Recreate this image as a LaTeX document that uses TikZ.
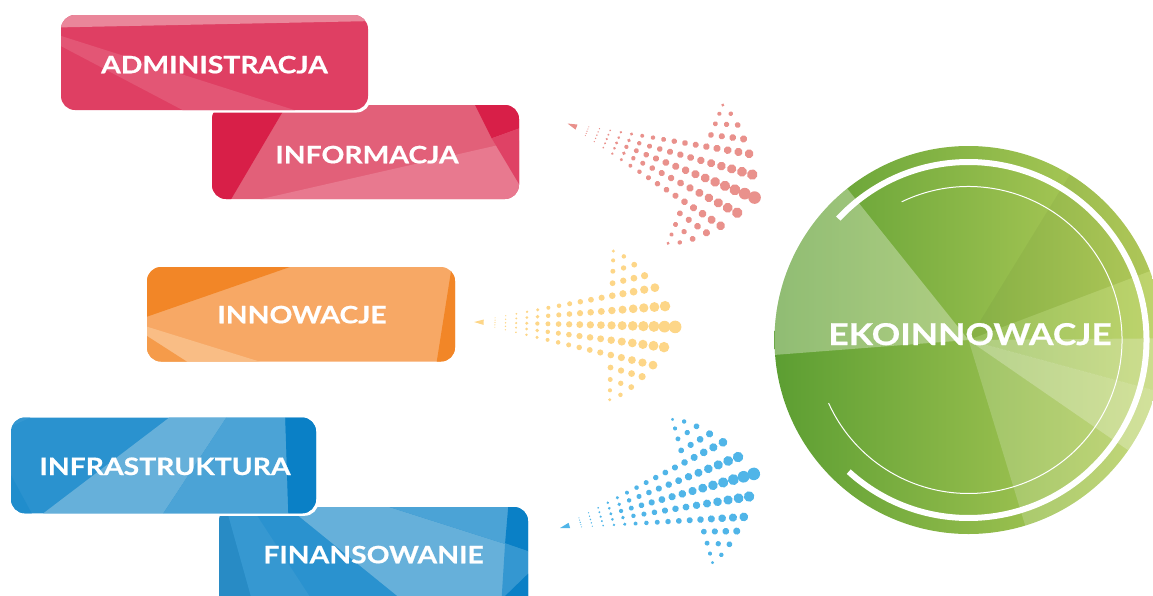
\documentclass[tikz,border=0pt]{standalone}
\usepackage{fontspec}
\setmainfont{Lato}
\newfontfamily\lblfont[FakeStretch=1.18, FakeBold=0.6]{Lato}
\definecolor{redDot}{HTML}{E9918C}
\definecolor{orangeDot}{HTML}{FDD688}
\definecolor{blueDot}{HTML}{50B5E8}
\definecolor{crimson}{HTML}{DF3F63}
\definecolor{crimsonDark}{HTML}{D81F48}
\definecolor{crimsonMid}{HTML}{E26079}
\definecolor{crimsonLight}{HTML}{E8798F}
\definecolor{orangeBase}{HTML}{F7A865}
\definecolor{orangeDark}{HTML}{F28627}
\definecolor{orangeLight}{HTML}{F9BD85}
\definecolor{orangeMid}{HTML}{F59B4A}
\definecolor{blueBase}{HTML}{2A92CF}
\definecolor{blueLight}{HTML}{66B0DA}
\definecolor{blueMid}{HTML}{4BA3D6}
\definecolor{blueDark}{HTML}{0A80C6}
\definecolor{greenLeft}{HTML}{5C9E32}
\definecolor{greenRight}{HTML}{BAD15E}
\tikzset{
  lbl/.style={text=white, font=\lblfont\fontsize{24}{24}\selectfont\bfseries, anchor=base, inner sep=0pt},
  biglbl/.style={lbl, font=\lblfont\fontsize{30}{30}\selectfont\bfseries},
  boxcorner/.style={rounded corners=14pt},
}
% halftone arrow: tip at the origin, pointing along +x
\newcommand\dotarrow[1]{%
  \fill[#1] (0,0) -- (9.7,-2.7) -- (9.7,2.7) -- cycle;
  \foreach \i in {0,...,17}{%
    \pgfmathsetmacro\u{21+10.6*\i}%
    \pgfmathsetmacro\rc{{0.7,0.85,1.2,1.65,2.15,2.5,2.85,3.15,3.45,3.65,3.85,4.15,4.5,4.85,5.15,5.5,5.85,6.3}[\i]}%
    \pgfmathtruncatemacro\kmax{\i<11 ? 2 : 17-\i}%
    \foreach \k in {-\kmax,...,\kmax}{%
      \pgfmathtruncatemacro\a{abs(\k)}%
      \pgfmathsetmacro\g{{0,0.107,0.214,0.261,0.335,0.402,0.46}[\a]}%
      \pgfmathsetmacro\vo{{0,1,1,24,24,24,24}[\a]}%
      \pgfmathsetmacro\v{sign(\k)*\g*(\u+\vo)}%
      \pgfmathsetmacro\r{\rc*(1-0.1*\a)}%
      \fill[#1] (\u,\v) circle[radius=\r];
    }%
  }%
}
\begin{document}
\begin{tikzpicture}[x=1pt,y=-1pt]
\useasboundingbox (0,0) rectangle (1153,595);

% ---------- INFORMACJA ----------
\begin{scope}
  \clip[boxcorner] (212,105) rectangle (519,199);
  \fill[crimsonMid] (205,100) rectangle (525,205);
  \fill[crimsonLight] (235,205) -- (525,139) -- (525,205) -- cycle;
  \fill[crimsonDark] (205,100) -- (289.6,100) -- (227.7,205) -- (205,205) -- cycle;
  \fill[crimsonDark] (472.5,100) -- (525,100) -- (525,126.3) -- (491.7,138.3) -- cycle;
  \fill[crimson!90!crimsonMid] (491.7,138.3) -- (525,126.3) -- (525,194) -- (519,184) -- cycle;
\end{scope}
\node[lbl] (info) at (367,163.3) {INFORMACJA};

% ---------- ADMINISTRACJA ----------
\fill[white, boxcorner] (58.5,12.5) rectangle (370.5,112.5);
\begin{scope}
  \clip[boxcorner] (61,15) rectangle (368,110);
  \fill[crimson] (55,10) rectangle (375,115);
  \fill[crimsonLight!90!white] (55,10) -- (375,10) -- (375,21) -- (55,27.5) -- cycle;
  \fill[crimson!60!crimsonLight] (55,34) -- (310,115) -- (192,115) -- (55,43) -- cycle;
\end{scope}
\node[lbl] (admin) at (214.5,73.3) {ADMINISTRACJA};

% ---------- INNOWACJE ----------
\begin{scope}
  \clip[boxcorner] (147,267) rectangle (455,361.5);
  \fill[orangeBase] (140,260) rectangle (462,365);
  \fill[orangeDark] (140,260) -- (310,260) -- (140,319.1) -- cycle;
  \fill[orangeDark] (452.8,260) -- (462,260) -- (462,370) -- (435.4,370) -- cycle;
  \fill[orangeLight] (140,324.5) -- (270.6,365) -- (140,365) -- cycle;
  \fill[orangeMid] (140,331.5) -- (192.1,365) -- (140,365) -- cycle;
\end{scope}
\node[lbl] (innow) at (302,323.3) {INNOWACJE};

% ---------- FINANSOWANIE ----------
\begin{scope}
  \clip[boxcorner] (219,507) rectangle (528,610);
  \fill[blueBase] (212,500) rectangle (535,610);
  \fill[blueBase!95!black] (212,500) -- (224,500) -- (254.7,610) -- (212,610) -- cycle;
  \fill[blueBase!80!blueLight] (224,500) -- (246.9,500) -- (318.5,610) -- (254.7,610) -- cycle;
  \fill[blueLight] (278.9,500) -- (367.3,500) -- (508.3,545) -- (501.7,610) -- (414.6,610) -- cycle;
  \fill[blueMid] (367.3,500) -- (510,500) -- (508.3,545) -- cycle;
  \fill[blueDark] (508.8,500) -- (535,500) -- (535,553.6) -- (505.1,543.3) -- cycle;
  \fill[blueBase!70!blueMid] (505.1,543.3) -- (535,553.6) -- (535,610) -- (500.9,610) -- cycle;
  \fill[blueDark] (535,567) -- (535,610) -- (490.7,610) -- cycle;
\end{scope}
\node[lbl] (finans) at (373.5,563.3) {FINANSOWANIE};

% ---------- INFRASTRUKTURA ----------
\fill[white, boxcorner] (8.5,415) rectangle (318.5,515.8);
\begin{scope}
  \clip[boxcorner] (11,417.5) rectangle (316,513.3);
  \fill[blueBase] (5,410) rectangle (325,520);
  \fill[blueLight] (179.2,410) -- (231.3,410) -- (158.9,520) -- (34.5,520) -- cycle;
  \fill[blueMid] (231.3,410) -- (285,410) -- (288.5,520) -- (158.9,520) -- cycle;
  \fill[blueDark] (285,410) -- (325,410) -- (325,520) -- (288.5,520) -- cycle;
  \fill[blueBase!70!blueMid] (5,429) -- (47,410) -- (5,410) -- cycle;
  \fill[blueBase!70!blueDark] (5,464) -- (35.3,520) -- (5,520) -- cycle;
\end{scope}
\node[lbl] (infra) at (165,475) {INFRASTRUKTURA};

% ---------- halftone arrows ----------
\begin{scope}[shift={(567.5,123.5)}, rotate=-21.6]
  \dotarrow{redDot}
\end{scope}
\begin{scope}[shift={(474,322)}, rotate=-1.4]
  \dotarrow{orangeDot}
\end{scope}
\begin{scope}[shift={(560,528)}, rotate=15.6]
  \dotarrow{blueDot}
\end{scope}

% ---------- EKOINNOWACJE disc ----------
\coordinate (c) at (968.5,340);
\begin{scope}
  \clip (c) circle[radius=194];
  \shade[left color=greenLeft, right color=greenRight] (774,140) rectangle (1163,540);
  \fill[white, opacity=0.32] (c) -- +(-128.7:300) -- +(-184.4:300) -- cycle;
  \fill[black, opacity=0.04] (c) -- +(-20.8:300) -- +(-58.5:300) -- cycle;
  \fill[white, opacity=0.10] (c) -- +(-0.5:300) -- +(-20.8:300) -- cycle;
  \fill[white, opacity=0.30] (c) -- +(15.2:300) -- +(-0.5:300) -- cycle;
  \fill[white, opacity=0.38] (c) -- +(34.6:300) -- +(15.2:300) -- cycle;
  \fill[white, opacity=0.18] (c) -- +(73:300) -- +(34.6:300) -- cycle;
\end{scope}
\draw[white, line width=6pt] (c) ++(-137:178) arc[start angle=-137, end angle=132.3, radius=178];
\draw[white, line width=1pt] (c) ++(-115.8:153.5) arc[start angle=-115.8, end angle=155.7, radius=153.5];
\node[biglbl] (eko) at (970,345) {EKOINNOWACJE};
\end{tikzpicture}
\end{document}
